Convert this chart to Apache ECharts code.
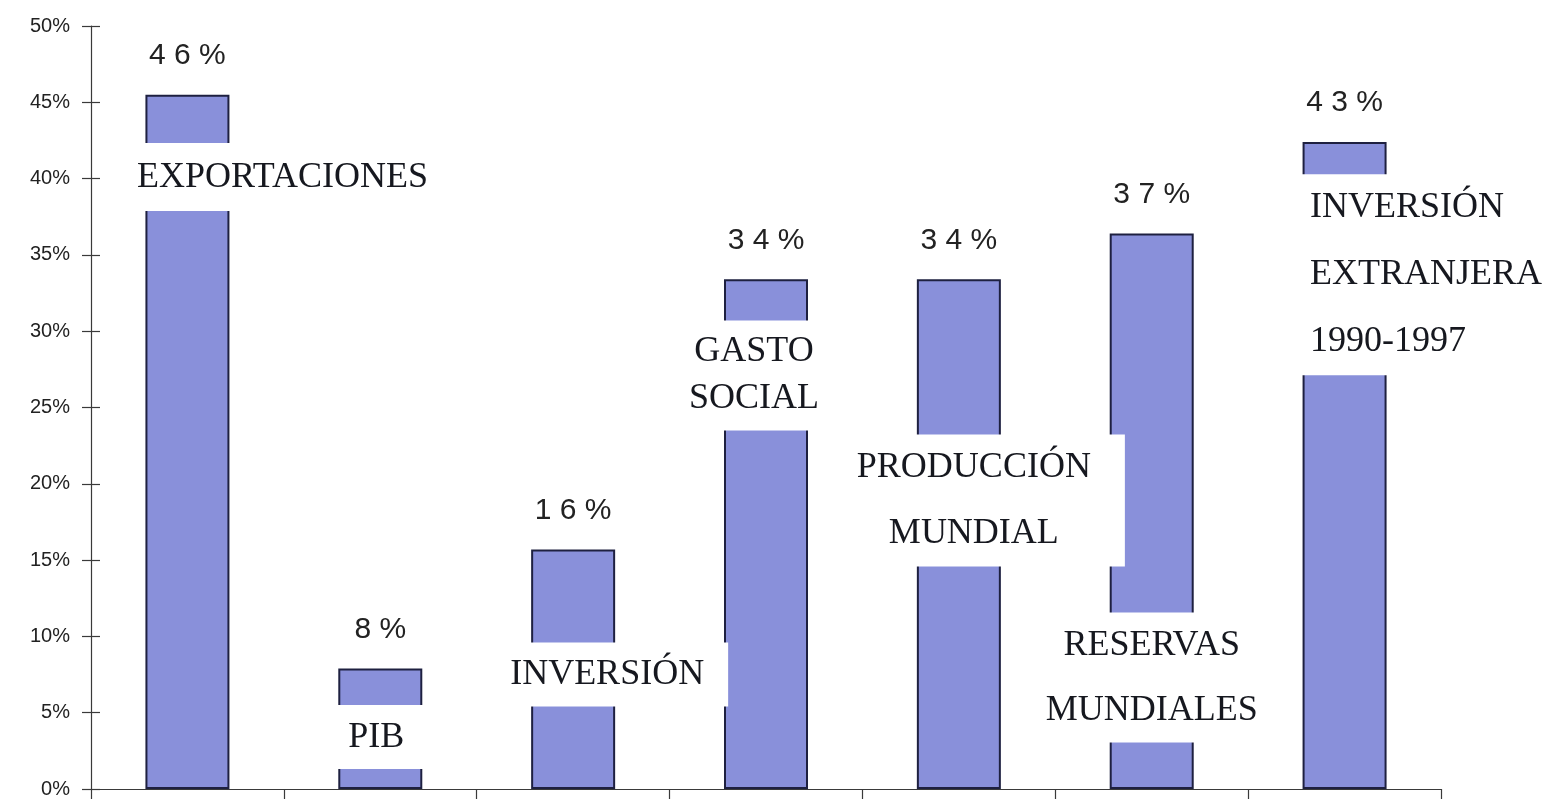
<!DOCTYPE html>
<html><head><meta charset="utf-8">
<script src="https://cdn.jsdelivr.net/npm/echarts@6/dist/echarts.min.js"></script>
<style>html,body{margin:0;padding:0;background:#fff}#c{width:1551px;height:807px}</style>
</head><body><div id="c"></div>
<script>
// ---- data ----
const categories = ['EXPORTACIONES', 'PIB', 'INVERSIÓN', 'GASTO\nSOCIAL', 'PRODUCCIÓN\nMUNDIAL', 'RESERVAS\nMUNDIALES', 'INVERSIÓN\nEXTRANJERA\n1990-1997'];
const values = [45.5, 7.9, 15.7, 33.4, 33.4, 36.4, 42.4];
const valueLabels = ['46%', '8%', '16%', '34%', '34%', '37%', '43%'];
// level (in %) at which each category name is written across its bar
const nameLevels = [40.1, 3.4, 7.5, 27.1, 18.9, 7.3, 33.7];

// ---- per-label styling (kept apart from data) ----
const nameStyles = [
  { offset: [95, 0], padding: [14, 6], lineHeight: 40 },
  { offset: [-4, 0], padding: [12, 22], lineHeight: 40 },
  { offset: [34, 0], padding: [12, 24], lineHeight: 40 },
  { offset: [-12, 0], padding: [8, 8], lineHeight: 47 },
  { offset: [15, 0], padding: [0, 34], lineHeight: 66 },
  { offset: [0, 0], padding: [0, 8], lineHeight: 65 },
  { position: 'right', distance: 0, offset: [-52, 0], padding: [0, 8, 0, 17], lineHeight: 67 }
];

const chart = echarts.init(document.getElementById('c'), null, { renderer: 'canvas' });
const axisColor = '#3a3a3a';
const yBase = {
  type: 'value', min: 0, max: 50, interval: 5, position: 'left',
  splitLine: { show: false }
};
chart.setOption({
  animation: false,
  backgroundColor: '#ffffff',
  grid: { left: 91, right: 110, top: 26, bottom: 18, containLabel: false },
  xAxis: {
    type: 'category', data: categories, boundaryGap: true,
    axisLine: { lineStyle: { color: axisColor, width: 1.2 } },
    axisTick: { show: true, inside: false, length: 10, lineStyle: { color: axisColor, width: 1.2 } },
    axisLabel: { show: false }
  },
  yAxis: [
    Object.assign({}, yBase, {
      axisLine: { show: true, lineStyle: { color: axisColor, width: 1.2 } },
      axisTick: { show: true, inside: false, length: 9, lineStyle: { color: axisColor, width: 1.2 } },
      axisLabel: { show: true, margin: 21, formatter: '{value}%', fontFamily: 'Liberation Sans, Arial, sans-serif', fontSize: 20, color: '#222' }
    }),
    Object.assign({}, yBase, {
      axisLine: { show: false },
      axisTick: { show: true, inside: true, length: 9, lineStyle: { color: axisColor, width: 1.2 } },
      axisLabel: { show: false }
    })
  ],
  series: [
    {
      type: 'bar', data: values, barWidth: 84, z: 2,
      itemStyle: { color: '#8990da', borderColor: '#1e2040', borderWidth: 2 },
      label: {
        show: true, position: 'top', distance: 24,
        formatter: p => valueLabels[p.dataIndex].split('').join(' '),
        fontFamily: 'Liberation Sans, Arial, sans-serif', fontSize: 30, color: '#222'
      }
    },
    {
      type: 'scatter', z: 5, symbol: 'rect', symbolSize: 1,
      itemStyle: { color: 'rgba(255,255,255,0)', opacity: 1 },
      silent: true,
      emphasis: { disabled: true },
      data: categories.map((c, i) => ({
        value: [i, nameLevels[i]],
        label: Object.assign({
          show: true, position: 'inside', opacity: 1,
          formatter: c,
          fontFamily: 'Liberation Serif, Times New Roman, serif', fontSize: 36, color: '#16181f',
          backgroundColor: '#ffffff'
        }, nameStyles[i])
      }))
    }
  ]
});
</script></body></html>
